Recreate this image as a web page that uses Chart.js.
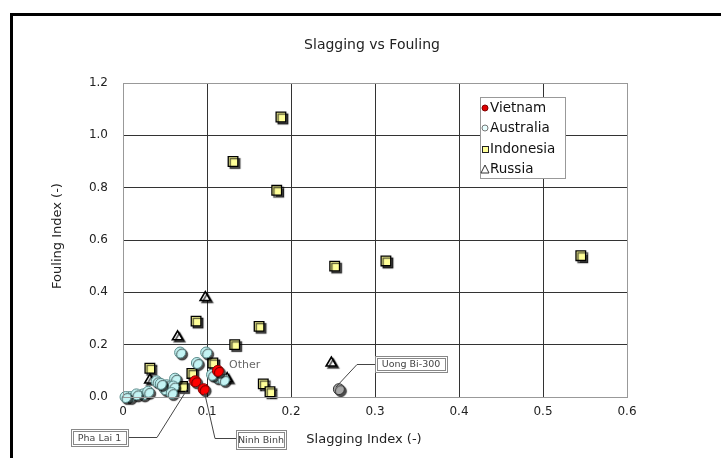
<!DOCTYPE html>
<html><head><meta charset="utf-8">
<script src="https://cdn.jsdelivr.net/npm/chart.js@4/dist/chart.umd.min.js"></script>
<style>html,body{margin:0;padding:0;background:#fff;}canvas{display:block;}</style>
</head><body>
<canvas id="c" width="721" height="458"></canvas>
<script>
// ---- data ----
const vietnamX = [0.113, 0.086, 0.096];
const vietnamY = [0.10, 0.06, 0.03];
const australiaX = [0.068, 0.099, 0.088, 0.112, 0.106, 0.062, 0.052, 0.050, 0.040, 0.024, 0.008, 0.016, 0.030, 0.003, 0.060, 0.058, 0.045, 0.120];
const australiaY = [0.17, 0.17, 0.13, 0.075, 0.085, 0.07, 0.045, 0.03, 0.06, 0.01, 0.00, 0.01, 0.02, 0.00, 0.04, 0.015, 0.05, 0.065];
const uongBiX = [0.257];
const uongBiY = [0.03];
const indonesiaX = [0.188, 0.131, 0.183, 0.252, 0.313, 0.545, 0.087, 0.162, 0.133, 0.167, 0.175, 0.032, 0.107, 0.082, 0.071];
const indonesiaY = [1.07, 0.90, 0.79, 0.50, 0.52, 0.54, 0.29, 0.27, 0.20, 0.05, 0.02, 0.11, 0.13, 0.09, 0.04];
const russiaX = [0.098, 0.065, 0.248, 0.124, 0.032];
const russiaY = [0.38, 0.23, 0.13, 0.07, 0.065];
const seriesNames = ['Vietnam', 'Australia', 'Indonesia', 'Russia'];
const xTicks = [0, 0.1, 0.2, 0.3, 0.4, 0.5, 0.6];
const yTicks = [0.0, 0.2, 0.4, 0.6, 0.8, 1.0, 1.2];
const chartTitle = 'Slagging vs Fouling';
const xTitle = 'Slagging Index (-)';
const yTitle = 'Fouling Index (-)';
const callouts = ['Pha Lai 1', 'Ninh Binh', 'Uong Bi-300', 'Other'];

const pts = (xs, ys) => xs.map((x, i) => ({x, y: ys[i]}));
const FONT = '"DejaVu Sans", Verdana, sans-serif';

const shadowPlugin = {
  id: 'shadow',
  beforeDatasetsDraw(chart) {
    const c = chart.ctx; c.save();
    c.shadowColor = 'rgba(0,0,0,0.7)'; c.shadowOffsetX = 2; c.shadowOffsetY = 2; c.shadowBlur = 1;
  },
  afterDatasetsDraw(chart) { chart.ctx.restore(); }
};

const decor = {
  id: 'decor',
  beforeDraw(chart) {
    const c = chart.ctx; c.save();
    c.fillStyle = '#000';
    c.fillRect(10, 13, 3, 445);
    c.fillRect(10, 13, 711, 3);
    c.restore();
  },
  afterDraw(chart) {
    const c = chart.ctx, a = chart.chartArea;
    const xs = chart.scales.x, ys = chart.scales.y;
    c.save();
    // plot border
    c.strokeStyle = '#999'; c.lineWidth = 1;
    c.strokeRect(a.left + 0.5, a.top + 0.5, a.right - a.left, a.bottom - a.top);
    // titles
    c.fillStyle = '#222'; c.textAlign = 'center'; c.textBaseline = 'middle';
    c.font = '14px ' + FONT;
    c.fillText(chartTitle, 372, 45);
    c.font = '13px ' + FONT;
    c.fillText(xTitle, 364, 440);
    c.save(); c.translate(58, 236); c.rotate(-Math.PI / 2); c.fillText(yTitle, 0, 0); c.restore();

    // legend
    const lx = 480, ly = 97, lw = 85, lh = 81;
    c.fillStyle = '#fff'; c.fillRect(lx, ly, lw, lh);
    c.strokeStyle = '#999'; c.strokeRect(lx + 0.5, ly + 0.5, lw, lh);
    c.font = '13.5px ' + FONT; c.textAlign = 'left'; c.fillStyle = '#111';
    const rows = [108, 128, 149, 169];
    rows.forEach((yy, i) => c.fillText(seriesNames[i], 490, yy));
    // markers
    c.lineWidth = 1;
    c.beginPath(); c.arc(485, 108, 3, 0, Math.PI * 2); c.fillStyle = '#e00000'; c.fill(); c.strokeStyle = '#800000'; c.stroke();
    c.beginPath(); c.arc(485, 128, 3, 0, Math.PI * 2); c.fillStyle = '#e8ffff'; c.fill(); c.strokeStyle = '#777'; c.stroke();
    c.fillStyle = '#ffff99'; c.fillRect(482, 146, 7, 7); c.strokeStyle = '#222'; c.strokeRect(482.5, 146.5, 6, 6);
    c.beginPath(); c.moveTo(485, 165); c.lineTo(489, 173); c.lineTo(481, 173); c.closePath(); c.strokeStyle = '#333'; c.stroke();

    // callouts
    const box = (text, x, y, w, h) => {
      c.fillStyle = '#fff'; c.fillRect(x, y, w, h);
      c.strokeStyle = '#888'; c.lineWidth = 1; c.strokeRect(x + 0.5, y + 0.5, w, h);
      c.strokeRect(x + 2.5, y + 2.5, w - 4, h - 4);
      c.fillStyle = '#444'; c.font = '9.5px ' + FONT; c.textAlign = 'center';
      c.fillText(text, x + w / 2, y + h / 2 + 1);
    };
    c.strokeStyle = '#444'; c.lineWidth = 1;
    const p1x = xs.getPixelForValue(vietnamX[1]), p1y = ys.getPixelForValue(vietnamY[1]);
    c.beginPath(); c.moveTo(128, 437.5); c.lineTo(157, 437.5); c.lineTo(p1x - 8, p1y + 8); c.stroke();
    const p2x = xs.getPixelForValue(vietnamX[2]), p2y = ys.getPixelForValue(vietnamY[2]);
    c.beginPath(); c.moveTo(p2x + 1, p2y + 4); c.lineTo(215, 438.5); c.lineTo(236, 438.5); c.stroke();
    const p3x = xs.getPixelForValue(uongBiX[0]), p3y = ys.getPixelForValue(uongBiY[0]);
    c.beginPath(); c.moveTo(p3x - 3, p3y - 2); c.lineTo(357, 364.5); c.lineTo(375, 364.5); c.stroke();
    box(callouts[0], 71, 429, 57, 17);
    box(callouts[1], 236, 430, 50, 19);
    box(callouts[2], 375, 356, 72, 16);
    c.fillStyle = '#666'; c.font = '11px ' + FONT; c.textAlign = 'left';
    c.fillText(callouts[3], 229, 365);
    c.restore();
  }
};

new Chart(document.getElementById('c'), {
  type: 'scatter',
  data: {
    datasets: [
      { label: seriesNames[0], data: pts(vietnamX, vietnamY), pointStyle: 'circle', pointRadius: 5.5,
        backgroundColor: '#ff0000', borderColor: '#8b0000', borderWidth: 1 },
      { label: 'Uong Bi-300', data: pts(uongBiX, uongBiY), pointStyle: 'circle', pointRadius: 5.5,
        backgroundColor: '#a8a8a8', borderColor: '#333', borderWidth: 1 },
      { label: seriesNames[1], data: pts(australiaX, australiaY), pointStyle: 'circle', pointRadius: 5.5,
        backgroundColor: '#c4f4f4', borderColor: '#5a8a8a', borderWidth: 1 },
      { label: seriesNames[3], data: pts(russiaX, russiaY), pointStyle: 'triangle', pointRadius: 6,
        backgroundColor: '#ffffff', borderColor: '#000', borderWidth: 1.6 },
      { label: seriesNames[2], data: pts(indonesiaX, indonesiaY), pointStyle: 'rect', pointRadius: 6.8,
        backgroundColor: '#ffff99', borderColor: '#000', borderWidth: 1.3 }
    ]
  },
  options: {
    responsive: false, animation: false,
    layout: { padding: { left: 0, right: 94, top: 83, bottom: 0 } },
    plugins: { legend: { display: false }, tooltip: { enabled: false }, title: { display: false } },
    datasets: { scatter: { clip: false } },
    scales: {
      x: {
        type: 'linear', min: 0, max: 0.6,
        afterFit(s) { s.height = 61; },
        afterBuildTicks(s) { s.ticks = xTicks.map(v => ({ value: v })); },
        ticks: { padding: 8, color: '#222', font: { family: FONT, size: 12 }, maxRotation: 0,
          callback: v => String(Math.round(v * 10) / 10) },
        grid: { color: '#333', lineWidth: 1, drawTicks: false },
        border: { display: true, color: '#999' }
      },
      y: {
        type: 'linear', min: 0, max: 1.2,
        afterFit(s) { s.width = 123; },
        afterBuildTicks(s) { s.ticks = yTicks.map(v => ({ value: v })); },
        ticks: { padding: 15, color: '#222', font: { family: FONT, size: 12 },
          callback: v => Number(v).toFixed(1) },
        grid: { color: '#333', lineWidth: 1, drawTicks: false },
        border: { display: true, color: '#999' }
      }
    }
  },
  plugins: [shadowPlugin, decor]
});
</script>
</body></html>
